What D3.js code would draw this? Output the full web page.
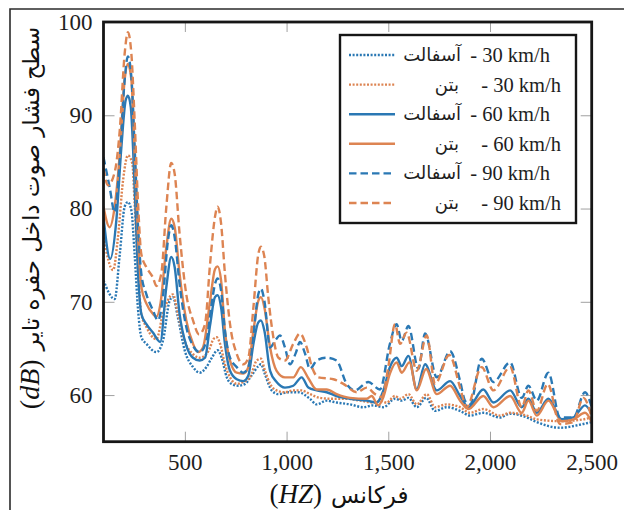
<!DOCTYPE html>
<html>
<head>
<meta charset="utf-8">
<script src="https://cdn.jsdelivr.net/npm/d3@7"></script>
<style>
  html, body { margin: 0; padding: 0; background: #fff; }
  svg { display: block; }
</style>
</head>
<body>
<div id="chart"></div>
<script>
// frequency (Hz), level (dB) pairs
const asphalt30 = [[100,72.3],[155,70.3],[180,75.1],[204,80.2],[220,80.7],[237,79.8],[253,75.1],[270,69.1],[286,66.2],[311,65.5],[360,64.6],[392,65.8],[425,70.1],[441,70.5],[466,68.3],[499,64.8],[540,63.0],[573,62.4],[606,63.0],[630,63.9],[661,64.8],[681,64.0],[706,61.9],[730,61.2],[763,61.0],[796,61.2],[828,62.1],[861,63.1],[874,63.3],[894,62.2],[927,60.5],[960,60.1],[1009,60.3],[1058,60.3],[1115,59.6],[1148,59.0],[1197,59.4],[1246,59.2],[1312,59.0],[1377,58.7],[1427,58.9],[1476,58.7],[1533,59.6],[1566,59.4],[1599,59.7],[1640,58.7],[1686,59.7],[1730,58.3],[1787,58.7],[1853,58.3],[1902,57.8],[1967,58.1],[2049,57.6],[2099,58.0],[2181,57.6],[2230,57.1],[2344,56.5],[2459,56.9],[2500,57.1]];
const concrete30 = [[100,76.9],[147,73.4],[171,76.9],[196,83.0],[220,85.7],[242,84.8],[253,80.5],[270,73.4],[286,68.7],[311,67.3],[360,66.0],[392,68.7],[425,70.5],[441,70.8],[466,68.7],[499,65.8],[540,64.4],[573,64.0],[606,64.4],[624,65.1],[640,66.0],[656,66.2],[673,65.5],[697,63.3],[722,61.9],[755,61.2],[787,61.4],[820,61.9],[853,63.7],[874,63.9],[894,62.6],[919,61.2],[951,60.5],[992,60.3],[1033,60.5],[1074,60.5],[1115,60.1],[1164,59.7],[1230,59.6],[1295,59.6],[1361,59.4],[1427,59.2],[1459,59.4],[1492,59.2],[1533,59.9],[1558,59.6],[1599,60.1],[1640,59.0],[1689,60.1],[1730,58.7],[1787,59.0],[1853,58.7],[1902,58.1],[1967,58.5],[2049,57.8],[2099,58.1],[2181,57.8],[2230,57.4],[2344,57.2],[2459,57.4],[2500,57.6]];
const asphalt60 = [[100,79.1],[133,74.6],[163,78.7],[188,86.6],[209,91.6],[220,92.1],[234,90.9],[253,82.3],[270,73.0],[286,68.7],[311,67.6],[343,66.7],[379,65.7],[409,71.6],[433,74.8],[450,73.7],[474,68.7],[507,65.3],[540,64.0],[573,63.7],[599,64.0],[624,67.5],[648,70.5],[661,70.7],[678,69.4],[697,65.5],[722,62.6],[755,61.7],[787,61.5],[812,62.1],[837,65.5],[861,67.8],[874,68.0],[891,66.9],[919,62.6],[951,61.4],[992,60.8],[1033,61.0],[1074,61.9],[1107,60.8],[1148,60.5],[1197,60.3],[1246,59.9],[1312,59.6],[1394,59.4],[1443,59.2],[1476,60.5],[1508,63.0],[1541,64.0],[1566,63.1],[1599,64.2],[1640,60.6],[1681,63.3],[1738,60.5],[1804,61.5],[1853,59.9],[1894,58.7],[1967,60.6],[2017,59.2],[2099,60.5],[2156,58.7],[2189,59.6],[2230,58.1],[2287,59.6],[2353,57.4],[2410,57.6],[2467,58.9],[2500,58.0]];
const concrete60 = [[100,80.2],[130,78.0],[155,80.2],[180,85.9],[204,93.8],[220,95.5],[237,93.8],[253,85.9],[270,76.9],[286,71.6],[311,69.8],[343,68.7],[360,68.4],[380,69.8],[409,75.9],[433,78.9],[450,78.0],[474,73.0],[507,68.0],[540,65.5],[565,64.6],[589,65.1],[624,70.1],[648,73.5],[661,73.8],[678,72.3],[697,66.9],[722,63.7],[755,62.4],[787,62.3],[812,63.0],[837,66.9],[861,70.1],[874,70.5],[891,69.4],[919,65.1],[951,62.6],[992,61.9],[1033,61.9],[1070,63.0],[1107,61.8],[1148,60.6],[1197,60.6],[1246,60.1],[1312,59.7],[1394,59.6],[1418,59.9],[1451,58.9],[1476,59.8],[1508,62.3],[1541,63.5],[1566,62.4],[1604,63.5],[1640,60.5],[1686,62.8],[1738,60.1],[1804,61.0],[1853,59.4],[1894,58.5],[1967,59.9],[2017,58.7],[2099,59.9],[2156,58.1],[2189,59.4],[2230,57.8],[2287,59.4],[2353,57.2],[2410,57.4],[2467,58.1],[2500,57.1]];
const asphalt90 = [[100,85.5],[130,82.3],[155,79.6],[180,85.2],[204,93.8],[220,96.3],[237,94.1],[253,86.6],[270,78.0],[286,73.0],[311,70.8],[343,69.1],[368,68.0],[392,70.5],[417,76.6],[433,78.2],[450,76.9],[474,71.9],[507,67.3],[540,65.3],[573,64.6],[606,65.8],[630,69.5],[648,71.9],[661,72.5],[678,71.2],[697,66.9],[722,64.0],[755,63.0],[787,62.4],[812,63.0],[837,66.5],[861,70.8],[874,71.4],[891,70.1],[919,65.1],[943,65.8],[968,66.4],[992,65.1],[1017,63.3],[1045,64.5],[1066,65.7],[1090,64.5],[1115,62.8],[1148,63.7],[1197,64.0],[1246,63.7],[1295,61.2],[1336,60.5],[1402,61.4],[1459,60.6],[1508,65.5],[1541,67.6],[1566,65.8],[1599,67.4],[1648,62.8],[1681,66.6],[1738,61.9],[1804,64.7],[1853,61.5],[1877,59.4],[1902,59.0],[1959,63.9],[2017,61.4],[2099,63.5],[2156,59.7],[2189,61.0],[2230,59.4],[2287,62.4],[2344,57.6],[2410,57.6],[2467,60.3],[2500,58.7]];
const concrete90 = [[100,84.3],[122,82.5],[155,83.9],[180,88.4],[204,96.6],[220,98.9],[237,96.6],[253,89.5],[270,80.5],[286,75.1],[311,73.7],[343,72.6],[360,71.7],[384,73.0],[409,80.2],[433,84.9],[450,83.7],[474,77.3],[507,70.8],[540,68.0],[570,66.5],[599,67.6],[624,74.1],[648,79.1],[661,80.2],[678,78.4],[697,73.0],[722,67.6],[755,64.4],[787,63.3],[812,64.0],[837,69.4],[861,75.1],[874,75.9],[891,74.8],[910,70.5],[935,66.2],[960,64.0],[992,63.7],[1033,65.5],[1066,66.6],[1099,65.1],[1125,63.0],[1156,61.9],[1230,61.7],[1279,61.2],[1345,60.3],[1394,60.8],[1435,60.1],[1468,59.8],[1500,63.0],[1533,67.6],[1558,65.5],[1590,66.7],[1640,62.6],[1689,66.4],[1730,61.2],[1800,64.3],[1853,60.8],[1885,58.7],[1959,63.0],[2017,60.5],[2099,63.0],[2156,58.7],[2189,60.5],[2230,58.3],[2284,61.2],[2344,56.9],[2410,57.1],[2459,59.7],[2500,57.6]];

const speeds = ["30 km/h", "60 km/h", "90 km/h"];
const surfaces = ["آسفالت", "بتن"];
const xTicks = [500, 1000, 1500, 2000, 2500];
const yTicks = [60, 70, 80, 90, 100];

const series = [
  { values: asphalt30, speed: 0, surface: 0 },
  { values: concrete30, speed: 0, surface: 1 },
  { values: asphalt60, speed: 1, surface: 0 },
  { values: concrete60, speed: 1, surface: 1 },
  { values: asphalt90, speed: 2, surface: 0 },
  { values: concrete90, speed: 2, surface: 1 }
];

const width = 624;
const height = 510;
const margin = { top: 22, right: 32.3, bottom: 68.3, left: 103.5 };

const colors = ["#2a78b4", "#dd8452"];
const dashes = ["2,1.6", null, "7.5,4"];
const widths = [2.4, 2.4, 2.4];

const latin = "'Liberation Serif', 'Times New Roman', serif";
const persian = "'DejaVu Sans', sans-serif";

const svg = d3.select("#chart")
  .append("svg")
  .attr("width", width)
  .attr("height", height);

svg.append("rect").attr("width", width).attr("height", height).attr("fill", "#fff");

// outer figure frame (cropped)
svg.append("path")
  .attr("d", `M10,${height} V9 H${width}`)
  .attr("fill", "none")
  .attr("stroke", "#2b2b2b")
  .attr("stroke-width", 1.6);

const x = d3.scaleLinear()
  .domain([100, 2500])
  .range([margin.left, width - margin.right]);

const y = d3.scaleLinear()
  .domain([55, 100])
  .range([height - margin.bottom, margin.top]);

// axes with inward ticks
const styleAxis = (g) => {
  g.select(".domain").remove();
  g.selectAll(".tick line").attr("stroke", "#a0a0a0").attr("stroke-width", 1);
  g.selectAll(".tick text")
    .attr("fill", "#1e1e1e")
    .style("font-family", latin)
    .style("font-size", "23px");
};

svg.append("g")
  .attr("transform", `translate(0,${height - margin.bottom})`)
  .call(d3.axisBottom(x).tickValues(xTicks).tickFormat(d3.format(",")).tickSizeInner(-10).tickSizeOuter(0).tickPadding(12))
  .call(styleAxis);

svg.append("g")
  .attr("transform", `translate(0,${margin.top})`)
  .call(d3.axisTop(x).tickValues(xTicks).tickFormat("").tickSizeInner(-10).tickSizeOuter(0))
  .call(styleAxis);

svg.append("g")
  .attr("transform", `translate(${margin.left},0)`)
  .call(d3.axisLeft(y).tickValues(yTicks).tickSizeInner(-11).tickSizeOuter(0).tickPadding(11))
  .call(styleAxis);

svg.append("g")
  .attr("transform", `translate(${width - margin.right},0)`)
  .call(d3.axisRight(y).tickValues(yTicks).tickFormat("").tickSizeInner(-11).tickSizeOuter(0))
  .call(styleAxis);

svg.append("clipPath").attr("id", "plot-clip")
  .append("rect")
  .attr("x", margin.left)
  .attr("y", margin.top)
  .attr("width", width - margin.left - margin.right)
  .attr("height", height - margin.top - margin.bottom);

const line = d3.line()
  .x((d) => x(d[0]))
  .y((d) => y(d[1]))
  .curve(d3.curveMonotoneX);

svg.append("g")
  .attr("clip-path", "url(#plot-clip)")
  .selectAll("path")
  .data(series)
  .enter()
  .append("path")
  .attr("d", (d) => line(d.values))
  .attr("fill", "none")
  .attr("stroke", (d) => colors[d.surface])
  .attr("stroke-width", (d) => widths[d.speed])
  .attr("stroke-dasharray", (d) => dashes[d.speed]);

// plot frame
svg.append("rect")
  .attr("x", margin.left)
  .attr("y", margin.top)
  .attr("width", width - margin.left - margin.right)
  .attr("height", height - margin.top - margin.bottom)
  .attr("fill", "none")
  .attr("stroke", "#161616")
  .attr("stroke-width", 2.8);

// legend
const legend = svg.append("g");
legend.append("rect")
  .attr("x", 340)
  .attr("y", 35)
  .attr("width", 236)
  .attr("height", 188)
  .attr("fill", "#fff")
  .attr("stroke", "#161616")
  .attr("stroke-width", 2.4);

const rows = legend.selectAll("g.row")
  .data(series)
  .enter()
  .append("g")
  .attr("class", "row")
  .attr("transform", (d, i) => `translate(0,${55 + i * 29.6})`);

rows.append("line")
  .attr("x1", 349).attr("x2", 395)
  .attr("stroke", (d) => colors[d.surface])
  .attr("stroke-width", (d) => widths[d.speed])
  .attr("stroke-dasharray", (d) => dashes[d.speed]);

rows.append("text")
  .attr("x", (d) => (d.surface === 0 ? 550 : 561))
  .attr("y", 7)
  .attr("text-anchor", "end")
  .style("font-family", latin)
  .style("font-size", "20.5px")
  .attr("fill", "#1e1e1e")
  .text((d) => "- " + speeds[d.speed]);

rows.append("text")
  .attr("x", (d) => (d.surface === 0 ? 461 : 459))
  .attr("y", 6)
  .attr("text-anchor", "end")
  .style("font-family", persian)
  .style("font-size", "18px")
  .attr("fill", "#1e1e1e")
  .text((d) => surfaces[d.surface]);

// y label: Persian words with (dB) at the bottom
const yLab = svg.append("g").attr("transform", "translate(39,218) rotate(-90)");
const yUnit = yLab.append("text")
  .style("font-family", latin)
  .style("font-size", "28px")
  .attr("fill", "#111");
yUnit.append("tspan").text("(");
yUnit.append("tspan").style("font-style", "italic").text("dB");
yUnit.append("tspan").text(")");
const yWords = yLab.append("text")
  .style("font-family", persian)
  .style("font-size", "23px")
  .attr("fill", "#111")
  .text("سطح فشار صوت داخل حفره تایر");
{
  const wu = yUnit.node().getComputedTextLength();
  const ww = yWords.node().getComputedTextLength();
  const gap = 9;
  const start = -(wu + gap + ww) / 2;
  yUnit.attr("x", start);
  yWords.attr("x", start + wu + gap);
}

// x label: (HZ) on the left, Persian word on the right
const xLab = svg.append("g").attr("transform", "translate(339,503)");
const xUnit = xLab.append("text")
  .style("font-family", latin)
  .style("font-size", "27px")
  .attr("fill", "#111");
xUnit.append("tspan").text("(");
xUnit.append("tspan").style("font-style", "italic").text("HZ");
xUnit.append("tspan").text(")");
const xWord = xLab.append("text")
  .style("font-family", persian)
  .style("font-size", "23px")
  .attr("fill", "#111")
  .text("فرکانس");
{
  const wu = xUnit.node().getComputedTextLength();
  const ww = xWord.node().getComputedTextLength();
  const gap = 9;
  const start = -(wu + gap + ww) / 2;
  xUnit.attr("x", start);
  xWord.attr("x", start + wu + gap);
}
</script>
</body>
</html>
